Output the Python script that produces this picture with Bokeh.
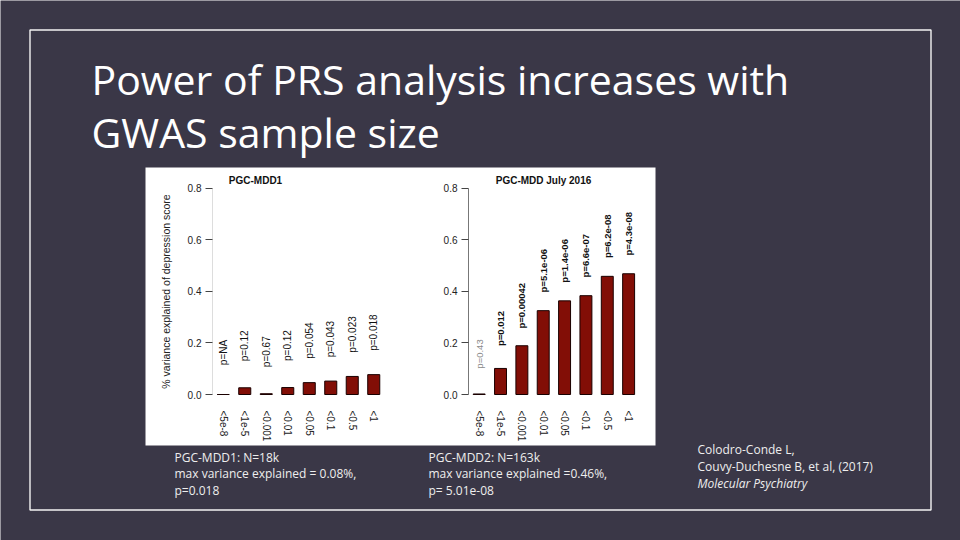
import math
from bokeh.plotting import figure
from bokeh.models import (Range1d, FixedTicker, Label, ColumnDataSource, LinearAxis)
from bokeh.core.properties import value
from bokeh.embed import file_html
from bokeh.resources import INLINE

# ---------------- data ----------------
thresholds = ["<5e-8", "<1e-5", "<0.001", "<0.01", "<0.05", "<0.1", "<0.5", "<1"]
mdd1_variance = [0.0, 0.026, 0.003, 0.027, 0.046, 0.052, 0.070, 0.077]
mdd1_pvalues = ["NA", "0.12", "0.67", "0.12", "0.054", "0.043", "0.023", "0.018"]
mdd2_variance = [0.002, 0.101, 0.189, 0.325, 0.363, 0.383, 0.458, 0.468]
mdd2_pvalues = ["0.43", "0.012", "0.00042", "5.1e-06", "1.4e-06", "6.6e-07", "6.2e-08", "4.3e-08"]
y_ticks = [0.0, 0.2, 0.4, 0.6, 0.8]
y_tick_labels = ["0.0", "0.2", "0.4", "0.6", "0.8"]

slide_title = ["Power of PRS analysis increases with", "GWAS sample size"]
caption1 = ["PGC-MDD1: N=18k", "max variance explained = 0.08%,", "p=0.018"]
caption2 = ["PGC-MDD2: N=163k", "max variance explained =0.46%,", "p= 5.01e-08"]
citation = ["Colodro-Conde L,", "Couvy-Duchesne B, et al, (2017)", "Molecular Psychiatry"]

BG = "#3a3747"
BAR = "#820e06"
LINE = "#f4f4f4"
SANS = "Liberation Sans"
SLIDE_FONT = "Open Sans"
W, H = 960, 540

# slide canvas in pixel coordinates (y grows downward)
p = figure(width=W, height=H, x_range=Range1d(0, W), y_range=Range1d(H, 0),
           output_backend="svg", toolbar_location=None, x_axis_location=None,
           y_axis_location=None, min_border=0, title=None)
p.background_fill_color = BG
p.border_fill_color = BG
p.outline_line_color = None
p.grid.visible = False

# slide frame and white figure panel
p.quad(left=[29.5], right=[930.5], top=[29.5], bottom=[509.5], fill_color=None,
       line_color=LINE, line_width=1.4)
p.quad(left=[145], right=[655], top=[167], bottom=[445], fill_color="white",
       line_color=None)

# title
p.text(x=[91, 91], y=[78, 131], text=slide_title, text_font=value(SLIDE_FONT),
       text_font_size="41px", text_color="white", text_baseline="middle")

# captions and citation
for cx, lines in ((174, caption1), (428, caption2)):
    p.text(x=[cx] * 3, y=[456.5, 473, 490], text=lines, text_font=value(SLIDE_FONT),
           text_font_size="12px", text_color="#eeeeee", text_baseline="middle")
p.text(x=[697, 697], y=[449, 466], text=citation[:2], text_font=value(SLIDE_FONT),
       text_font_size="12px", text_color="#eeeeee", text_baseline="middle")
p.text(x=[697], y=[482.5], text=citation[2:], text_font=value(SLIDE_FONT),
       text_font_size="12px", text_color="#eeeeee", text_baseline="middle",
       text_font_style="italic")


def chart(name, values, pvals, title, title_px, axis_px, unit_px, offset, bold, ylabel,
          axis_color):
    # data ranges for this panel, mapped onto the slide canvas
    zero_px, per_unit = 394.0, 258.0
    xr = Range1d(0.5 - axis_px / unit_px, 0.5 + (W - axis_px) / unit_px)
    yr = Range1d((zero_px - H) / per_unit, zero_px / per_unit)
    xn, yn = name + "x", name + "y"
    p.extra_x_ranges[xn] = xr
    p.extra_y_ranges[yn] = yr

    pos = list(range(1, len(thresholds) + 1))
    colors, styles = [], []
    for pv in pvals:
        if bold and pv != "NA" and float(pv) > 0.05:
            colors.append("#8a8a8a")
            styles.append("normal")
        else:
            colors.append("#111111")
            styles.append("bold" if bold else "normal")
    src = ColumnDataSource(dict(x=pos, val=values, lab=["p=" + v for v in pvals],
                                col=colors, sty=styles))
    p.vbar(x="x", top="val", width=0.56, source=src, fill_color=BAR,
           line_color="#1a0000", line_width=1, x_range_name=xn, y_range_name=yn)
    p.text(x="x", y="val", text="lab", source=src, angle=math.pi / 2,
           text_align="center", text_baseline="middle", y_offset=-offset,
           text_font=value(SANS), text_font_size="9.5px" if bold else "10px",
           text_color="col", text_font_style="sty", x_range_name=xn, y_range_name=yn)

    ya = LinearAxis(x_range_name=xn, y_range_name=yn, fixed_location=0.5,
                    ticker=FixedTicker(ticks=y_ticks), bounds=(0, 0.8))
    ya.major_label_overrides = {t: l for t, l in zip(y_ticks, y_tick_labels)}
    ya.axis_line_color = axis_color
    ya.major_tick_line_color = "#444444"
    ya.major_tick_in = 0
    ya.major_tick_out = 7
    ya.minor_tick_line_color = None
    ya.major_label_standoff = 4
    ya.major_label_text_font = SANS
    ya.major_label_text_font_size = "10px"
    ya.major_label_text_color = "#222222"
    if ylabel:
        ya.axis_label = ylabel
        ya.axis_label_text_font = SANS
        ya.axis_label_text_font_size = "10.5px"
        ya.axis_label_text_font_style = "normal"
        ya.axis_label_text_color = "#222222"
        ya.axis_label_standoff = 13
    p.add_layout(ya, "left")

    xa = LinearAxis(x_range_name=xn, y_range_name=yn, fixed_location=0.0,
                    ticker=FixedTicker(ticks=pos))
    xa.major_label_overrides = {i: c for i, c in zip(pos, thresholds)}
    xa.axis_line_color = None
    xa.major_tick_line_color = None
    xa.minor_tick_line_color = None
    xa.major_tick_out = 0
    xa.major_tick_in = 0
    xa.major_label_orientation = "vertical"
    xa.major_label_standoff = 16
    xa.major_label_text_font = SANS
    xa.major_label_text_font_size = "10px"
    xa.major_label_text_color = "#222222"
    p.add_layout(xa, "below")

    p.add_layout(Label(x=0.5 + (title_px - axis_px) / unit_px, y=0.83, text=title,
                       x_range_name=xn, y_range_name=yn, text_align="center",
                       text_baseline="middle", text_font=SANS, text_font_size="10px",
                       text_font_style="bold", text_color="#111111"))


chart("c1", mdd1_variance, mdd1_pvalues, "PGC-MDD1", 255, 212, 21.5, 42, False,
      "% variance explained of depression score", "#dddddd")
chart("c2", mdd2_variance, mdd2_pvalues, "PGC-MDD July 2016", 543, 468, 21.35, 40, True,
      None, "#777777")

open("out.html", "w").write(file_html(p, INLINE))
